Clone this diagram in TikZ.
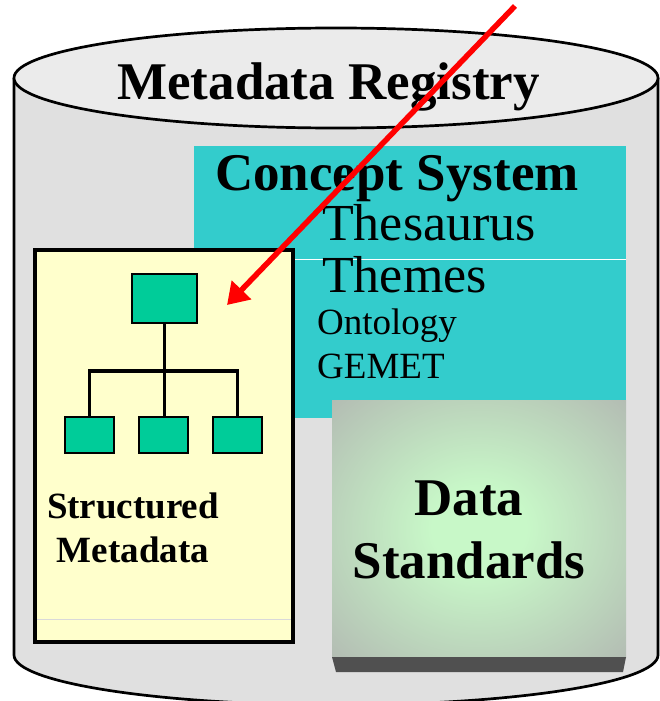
\documentclass[tikz,border=0pt]{standalone}
\usepackage{fontspec}
\setmainfont{Liberation Serif}
\usetikzlibrary{arrows.meta}
\usetikzlibrary{shapes,arrows}
\usetikzlibrary{calc}

\definecolor{cylside}{HTML}{E0E0E0}
\definecolor{cyllid}{HTML}{EBEBEB}
\definecolor{conceptcol}{HTML}{33CCCC}
\definecolor{paper}{HTML}{FFFFCC}
\definecolor{leaf}{HTML}{00CC99}
\definecolor{dsgreen}{HTML}{C8F8C8}
\definecolor{dsgray}{HTML}{AEAEAE}
\definecolor{dsfoot}{HTML}{505050}
\pgfdeclareradialshading{dsglow}{\pgfpoint{0bp}{0bp}}{color(0bp)=(dsgreen); color(8bp)=(dsgreen); color(42bp)=(dsgray); color(50bp)=(dsgray)}

\begin{document}
\begin{tikzpicture}[x=1pt,y=-1pt]
\tikzstyle{heading}=[font=\fontsize{53}{63}\selectfont\bfseries,inner sep=0pt]
\tikzstyle{term}=[font=\fontsize{52}{60}\selectfont,inner sep=0pt,anchor=base west]
\tikzstyle{smallterm}=[font=\fontsize{37}{44}\selectfont,inner sep=0pt,anchor=base west]
\tikzstyle{panel}=[rectangle,inner sep=0pt,outer sep=0pt]
\tikzstyle{leafbox}=[panel,draw,line width=2pt,fill=leaf,minimum width=49pt,minimum height=36pt]
\useasboundingbox (0,0) rectangle (659,701);

% registry drum
\fill[cylside] (14,78) -- (14,655)
  .. controls (14,682.6) and (158.2,705) .. (336,705)
  .. controls (513.8,705) and (658,682.6) .. (658,655) -- (658,78) -- cycle;
\draw[line width=2.7pt] (14,78) -- (14,655)
  .. controls (14,682.6) and (158.2,705) .. (336,705)
  .. controls (513.8,705) and (658,682.6) .. (658,655) -- (658,78);
\draw[line width=2.7pt,fill=cyllid] (336,78) ellipse [x radius=322, y radius=50];
\node[heading,anchor=base] (registry) at (328.5,99) {Metadata Registry};

\node[panel,fill=conceptcol,minimum width=432pt,minimum height=272pt] (concept) at (410,282) {};
\draw[white,line width=0.8pt] ($(concept.north west)+(0,113)$) -- ($(concept.north east)+(0,113)$);
\node[heading,anchor=base west] (cstitle) at (215,190) {Concept System};
\node[term] (thesaurus) at (322,240) {Thesaurus};
\node[term] (themes) at (322,292) {Themes};
\node[smallterm] (ontology) at (317,334) {Ontology};
\node[smallterm] (gemet) at (317,378) {GEMET};

\node[panel,draw,line width=3.2pt,fill=paper,minimum width=258pt,minimum height=392pt] (sheet) at (164,446) {};
\draw[black!15,line width=0.8pt] ($(sheet.south west)+(2,-23)$) -- ($(sheet.south east)+(-2,-23)$);
\node[leafbox,minimum width=65pt,minimum height=49pt] (root) at (164.5,298.5) {};
\node[leafbox] (kida) at (89.5,435) {};
\node[leafbox] (kidb) at (163.5,435) {};
\node[leafbox] (kidc) at (237.5,435) {};
\coordinate (fork) at (164.5,371);
\draw[line width=3.2pt] (root.south) -- (fork) -- (kidb.north -| fork);
\draw[line width=3.2pt] (kida.north) |- (fork) -| (kidc.north);
\node[font=\fontsize{37}{44}\selectfont\bfseries,align=center,inner sep=0pt] (smlabel) at (133,528) {Structured\\Metadata};

\node[panel,shading=dsglow,minimum width=294pt,minimum height=257pt] (standards) at (479,528.5) {};
\fill[dsfoot] (standards.south west) -- (standards.south east) -- ++(-3,15)
  -- ($(standards.south west)+(4,15)$) -- cycle;
\node[font=\fontsize{53}{63}\selectfont\bfseries,align=center,inner sep=0pt] (dslabel) at (469,530) {Data\\Standards};

\tikzstyle{pointer}=[-{Triangle[length=21pt,width=26pt]},line width=5.5pt,red]
\coordinate (from) at (515,6);
\coordinate (aim) at (227,305);
\draw[pointer] (from) -- (aim);

\end{tikzpicture}
\end{document}
